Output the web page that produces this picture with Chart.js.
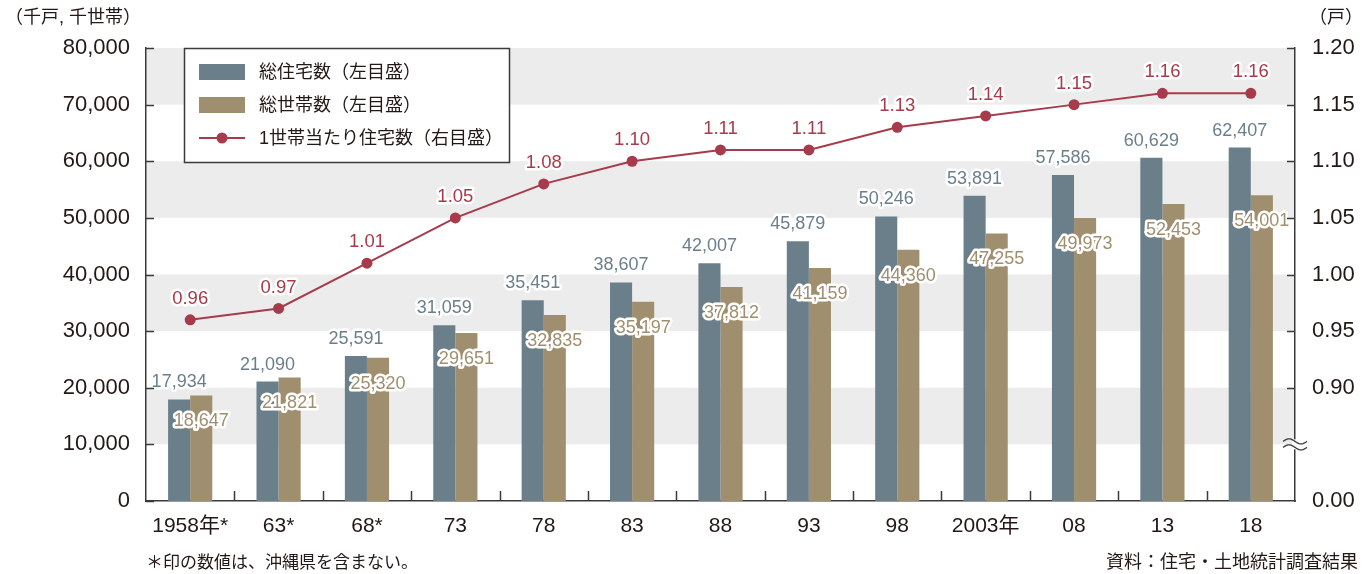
<!DOCTYPE html>
<html>
<head>
<meta charset="utf-8">
<script src="https://cdn.jsdelivr.net/npm/chart.js@4"></script>
<style>
  html, body { margin: 0; padding: 0; background: #fff; }
  #wrap { position: relative; width: 1370px; height: 574px; }
</style>
</head>
<body>
<div id="wrap"><canvas id="Chart1" width="1370" height="574"></canvas></div>
<script>
// data
var years = ['1958年*', '63*', '68*', '73', '78', '83', '88', '93', '98', '2003年', '08', '13', '18'];
var houses = [17934, 21090, 25591, 31059, 35451, 38607, 42007, 45879, 50246, 53891, 57586, 60629, 62407];
var households = [18647, 21821, 25320, 29651, 32835, 35197, 37812, 41159, 44360, 47255, 49973, 52453, 54001];
var perHousehold = [0.96, 0.97, 1.01, 1.05, 1.08, 1.10, 1.11, 1.11, 1.13, 1.14, 1.15, 1.16, 1.16];
var leftTicks = [0, 10000, 20000, 30000, 40000, 50000, 60000, 70000, 80000];
var rightTicks = [0.90, 0.95, 1.00, 1.05, 1.10, 1.15, 1.20];

var seriesNames = ['総住宅数（左目盛）', '総世帯数（左目盛）', '1世帯当たり住宅数（右目盛）'];

var GRAY = '#6b7f8b';
var TAN = '#a08f6f';
var RED = '#a83b4b';
var INK = '#231815';
var FONT = '"Liberation Sans", "Noto Sans CJK JP", sans-serif';

function haloText(ctx, txt, x, y, color, size) {
	ctx.font = size + 'px ' + FONT;
	ctx.textAlign = 'center';
	ctx.textBaseline = 'middle';
	ctx.lineJoin = 'round';
	ctx.lineWidth = 5;
	ctx.strokeStyle = '#fff';
	ctx.strokeText(txt, x, y);
	ctx.fillStyle = color;
	ctx.fillText(txt, x, y);
}

var extras = {
	id: 'extras',

	// gray stripes
	beforeDraw: function(chart) {
		var ctx = chart.ctx, a = chart.chartArea, y = chart.scales.y;
		ctx.save();
		ctx.fillStyle = '#ececec';
		[10000, 30000, 50000, 70000].forEach(function(v) {
			var top = y.getPixelForValue(v + 10000), bot = y.getPixelForValue(v);
			ctx.fillRect(a.left, top, a.right - a.left, bot - top);
		});
		ctx.restore();
	},

	// value labels
	afterDatasetsDraw: function(chart) {
		var ctx = chart.ctx;
		ctx.save();
		chart.getDatasetMeta(0).data.forEach(function(b, i) {
			haloText(ctx, houses[i].toLocaleString('en-US'), b.x, b.y - 17, GRAY, 18);
		});
		chart.getDatasetMeta(1).data.forEach(function(b, i) {
			haloText(ctx, households[i].toLocaleString('en-US'), b.x, b.y + 26, TAN, 18);
		});
		chart.getDatasetMeta(2).data.forEach(function(p, i) {
			haloText(ctx, perHousehold[i].toFixed(2), p.x, p.y - 21, RED, 18.5);
		});
		ctx.restore();
	},

	afterDraw: function(chart) {
		var ctx = chart.ctx, a = chart.chartArea;
		var y = chart.scales.y, y2 = chart.scales.y2;
		ctx.save();
		ctx.strokeStyle = '#3a3a3a';
		ctx.lineWidth = 1.5;

		// inward ticks
		ctx.beginPath();
		leftTicks.forEach(function(v) {
			var py = Math.round(y.getPixelForValue(v)) + 0.5;
			ctx.moveTo(a.left, py); ctx.lineTo(a.left + 8, py);
		});
		rightTicks.forEach(function(v) {
			var py = Math.round(y2.getPixelForValue(v)) + 0.5;
			ctx.moveTo(a.right, py); ctx.lineTo(a.right - 8, py);
		});
		var step = (a.right - a.left) / years.length;
		for (var k = 1; k < years.length; k++) {
			var px = Math.round(a.left + step * k) + 0.5;
			ctx.moveTo(px, a.bottom); ctx.lineTo(px, a.bottom - 10);
		}
		ctx.stroke();

		// break mark on the right axis
		var by = y2.getPixelForValue(0.85);
		ctx.fillStyle = '#fff';
		ctx.fillRect(a.right - 3, by - 5, 6, 10);
		ctx.beginPath();
		[-3, 3].forEach(function(off) {
			for (var t = 0; t <= 24; t++) {
				var px = a.right - 12 + t;
				var py = by + off - 2.5 * Math.sin(t / 24 * Math.PI * 2);
				if (t === 0) ctx.moveTo(px, py); else ctx.lineTo(px, py);
			}
		});
		ctx.lineWidth = 1.3;
		ctx.stroke();

		// legend box
		var lx = 184, ly = 48, lw = 325, lh = 114;
		ctx.fillStyle = '#fff';
		ctx.fillRect(lx, ly, lw, lh);
		ctx.lineWidth = 1.5;
		ctx.strokeStyle = '#3a3a3a';
		ctx.strokeRect(lx + 0.5, ly + 0.5, lw, lh);
		var rows = [ly + 24, ly + 57, ly + 90];
		ctx.fillStyle = GRAY;
		ctx.fillRect(199, rows[0] - 8, 46, 16);
		ctx.fillStyle = TAN;
		ctx.fillRect(199, rows[1] - 8, 46, 16);
		ctx.strokeStyle = RED;
		ctx.lineWidth = 2;
		ctx.beginPath(); ctx.moveTo(199, rows[2]); ctx.lineTo(245, rows[2]); ctx.stroke();
		ctx.fillStyle = RED;
		ctx.beginPath(); ctx.arc(222, rows[2], 5.5, 0, Math.PI * 2); ctx.fill();
		ctx.font = '18px ' + FONT;
		ctx.fillStyle = INK;
		ctx.textAlign = 'left';
		ctx.textBaseline = 'middle';
		seriesNames.forEach(function(n, i) { ctx.fillText(n, 259, rows[i] + 1); });

		// units and notes
		ctx.font = '18px ' + FONT;
		ctx.fillText('（千戸, 千世帯）', 5, 18);
		ctx.fillText('（戸）', 1309, 18);
		ctx.font = '17px ' + FONT;
		ctx.fillText('＊印の数値は、沖縄県を含まない。', 146, 563);
		ctx.textAlign = 'right';
		ctx.font = '18px ' + FONT;
		ctx.fillText('資料：住宅・土地統計調査結果', 1358, 563);
		ctx.restore();
	}
};

var context = document.getElementById('Chart1').getContext('2d');

var myChart = new Chart(context, {
	type: 'bar',
	data: {
		labels: years,
		datasets: [{
			label: seriesNames[0],
			data: houses,
			backgroundColor: GRAY,
			yAxisID: 'y',
			order: 1
		}, {
			label: seriesNames[1],
			data: households,
			backgroundColor: TAN,
			yAxisID: 'y',
			order: 1
		}, {
			type: 'line',
			label: seriesNames[2],
			data: perHousehold,
			borderColor: RED,
			backgroundColor: RED,
			borderWidth: 2,
			pointRadius: 5.5,
			pointBackgroundColor: RED,
			pointBorderWidth: 0,
			yAxisID: 'y2',
			order: 0
		}]
	},
	options: {
		responsive: false,
		animation: false,
		devicePixelRatio: 1,
		layout: { padding: { top: 48, left: 0, right: 0, bottom: 0 } },
		datasets: { bar: { categoryPercentage: 0.5, barPercentage: 1.0 } },
		plugins: { legend: { display: false }, tooltip: { enabled: false } },
		scales: {
			x: {
				grid: { display: false },
				border: { color: '#3a3a3a', width: 1.5 },
				ticks: { color: INK, font: { size: 21, family: FONT }, padding: 5, maxRotation: 0, autoSkip: false },
				afterFit: function(s) { s.height = 73; }
			},
			y: {
				position: 'left',
				min: 0, max: 80000,
				afterBuildTicks: function(s) { s.ticks = leftTicks.map(function(v) { return { value: v }; }); },
				grid: { display: false },
				border: { color: '#3a3a3a', width: 1.5 },
				ticks: {
					color: INK, font: { size: 22, family: FONT }, padding: 8,
					callback: function(v) { return Number(v).toLocaleString('en-US'); }
				},
				afterFit: function(s) { s.width = 146; }
			},
			y2: {
				position: 'right',
				min: 0.80, max: 1.20,
				afterBuildTicks: function(s) {
					s.ticks = [0.80].concat(rightTicks).map(function(v) { return { value: v }; });
				},
				grid: { display: false },
				border: { color: '#3a3a3a', width: 1.5 },
				ticks: {
					color: INK, font: { size: 22, family: FONT }, padding: 9,
					callback: function(v) { return Math.abs(v - 0.80) < 1e-6 ? '0.00' : Number(v).toFixed(2); }
				},
				afterFit: function(s) { s.width = 75; }
			}
		}
	},
	plugins: [extras]
});
</script>
</body>
</html>
